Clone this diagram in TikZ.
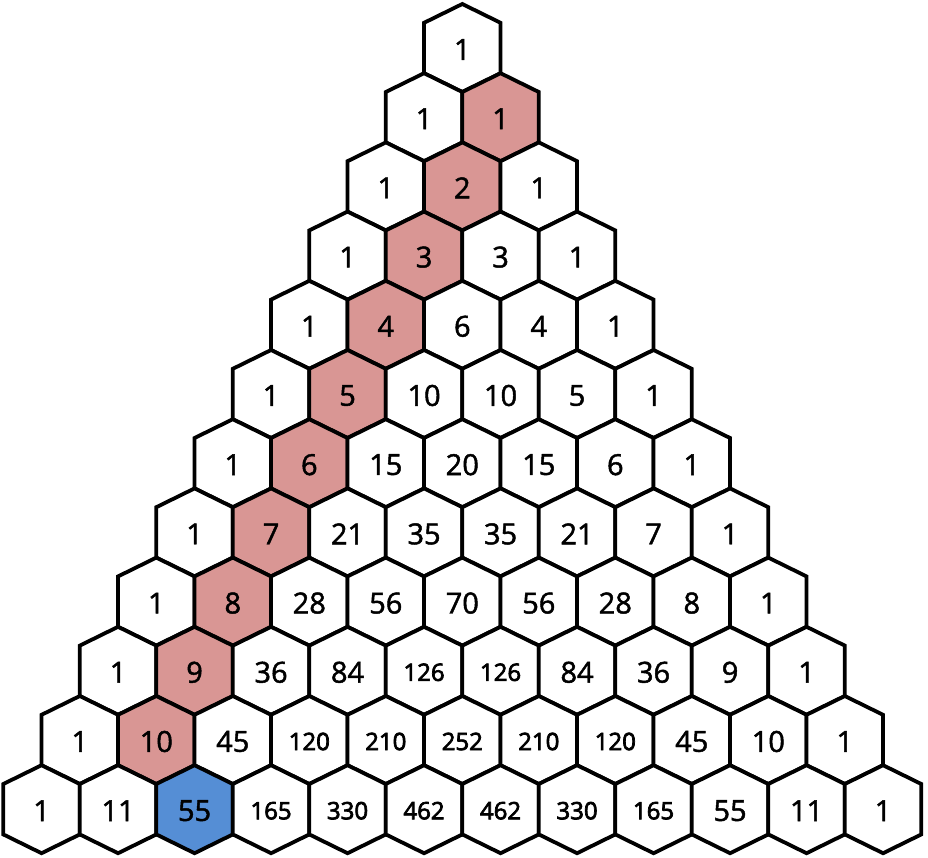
\documentclass[tikz,border=0pt]{standalone}
\usepackage{fontspec}
\setmainfont{Open Sans}
\newfontfamily\cellfont[FakeBold=1.6]{Open Sans}
\newfontfamily\cellfontheavy[FakeBold=3]{Open Sans}
\usepackage{tikz}
\definecolor{StickPink}{HTML}{D99694}
\definecolor{SumBlue}{HTML}{558ED5}

\begin{document}
\begin{tikzpicture}[
    x=1pt, y=1pt,
    hexcell/.style={draw=black, line width=3.8pt, line join=miter},
    numlabel/.style={inner sep=0pt, font=\cellfont\fontsize{29}{30}\selectfont},
    bignum/.style={inner sep=0pt, font=\cellfontheavy\fontsize{24}{26}\selectfont}
]
\useasboundingbox (0,0) rectangle (928,-857);
% rows of the triangle, hockey stick in pink, its sum in blue
\foreach \n/\row in {0/{1}, 1/{1,1}, 2/{1,2,1}, 3/{1,3,3,1}, 4/{1,4,6,4,1},
    5/{1,5,10,10,5,1}, 6/{1,6,15,20,15,6,1}, 7/{1,7,21,35,35,21,7,1},
    8/{1,8,28,56,70,56,28,8,1}, 9/{1,9,36,84,126,126,84,36,9,1},
    10/{1,10,45,120,210,252,210,120,45,10,1},
    11/{1,11,55,165,330,462,462,330,165,55,11,1}} {
  \foreach \v [count=\k from 0] in \row {
    \pgfmathsetmacro{\cx}{462.3+(\k-\n/2)*76.5}
    \pgfmathsetmacro{\cy}{-48-\n*69.2}
    \def\cellfill{white}
    \ifnum\k=1 \ifnum\n>0 \ifnum\n<11 \def\cellfill{StickPink}\fi\fi\fi
    \ifnum\n=11 \ifnum\k=2 \def\cellfill{SumBlue}\fi\fi
    \def\numstyle{numlabel}
    \ifnum\v>99 \def\numstyle{bignum}\fi
    \draw[hexcell, fill=\cellfill] (\cx,\cy) ++(0,44) -- ++(38.25,-18.8)
      -- ++(0,-50.4) -- ++(-38.25,-18.8) -- ++(-38.25,18.8) -- ++(0,50.4) -- cycle;
    \node[\numstyle] (c\n-\k) at (\cx,\cy-1.5) {\v};
  }
}
\end{tikzpicture}
\end{document}
